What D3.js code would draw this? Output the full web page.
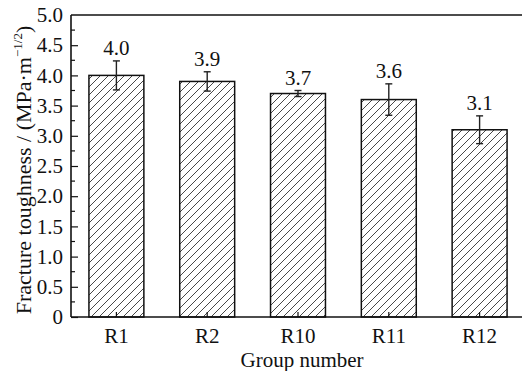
<!DOCTYPE html>
<html>
<head>
<meta charset="utf-8">
<script src="https://cdn.jsdelivr.net/npm/d3@7"></script>
<style>
  html, body { margin: 0; padding: 0; background: #fff; }
  svg { display: block; }
  svg text { font-family: "Liberation Serif", "Times New Roman", Times, serif; fill: #111; }
</style>
</head>
<body>
<svg id="chart" width="522" height="371"></svg>
<script>
// Fracture toughness per group, with standard deviation
const groups = ["R1", "R2", "R10", "R11", "R12"];
const toughness = [4.0, 3.9, 3.7, 3.6, 3.1];
const deviation = [0.24, 0.16, 0.05, 0.26, 0.23];
const yTickValues = [0, 0.5, 1.0, 1.5, 2.0, 2.5, 3.0, 3.5, 4.0, 4.5, 5.0];
const yMinorValues = [0.25, 0.75, 1.25, 1.75, 2.25, 2.75, 3.25, 3.75, 4.25, 4.75];

const serif = '"Liberation Serif", "Times New Roman", Times, serif';
const svg = d3.select("#chart");
const plotLeft = 71, plotRight = 525, plotTop = 15, plotBottom = 317;

const x = d3.scaleBand().domain(groups).range([plotLeft, plotRight]).paddingInner(0.395).paddingOuter(0.1975);
const y = d3.scaleLinear().domain([0, 5]).range([plotBottom, plotTop]);

// diagonal hatch fill
const defs = svg.append("defs");
const pat = defs.append("pattern")
  .attr("id", "hatch").attr("patternUnits", "userSpaceOnUse")
  .attr("width", 8).attr("height", 8);
pat.append("path")
  .attr("d", "M-2,2 l4,-4 M0,8 l8,-8 M6,10 l4,-4")
  .attr("stroke", "#333").attr("stroke-width", 0.9);

const data = groups.map((g, i) => ({ g, v: toughness[i], e: deviation[i] }));

// bars
svg.append("g").selectAll("rect").data(data).join("rect")
  .attr("x", d => x(d.g))
  .attr("y", d => y(d.v))
  .attr("width", x.bandwidth())
  .attr("height", d => y(0) - y(d.v))
  .attr("fill", "url(#hatch)")
  .attr("stroke", "#111").attr("stroke-width", 1.5);

// error bars
const eb = svg.append("g").attr("stroke", "#222").attr("stroke-width", 1.4);
data.forEach(d => {
  const cx = x(d.g) + x.bandwidth() / 2;
  eb.append("line").attr("x1", cx).attr("x2", cx).attr("y1", y(d.v + d.e)).attr("y2", y(d.v - d.e));
  eb.append("line").attr("x1", cx - 3.5).attr("x2", cx + 3.5).attr("y1", y(d.v + d.e)).attr("y2", y(d.v + d.e));
  eb.append("line").attr("x1", cx - 3.5).attr("x2", cx + 3.5).attr("y1", y(d.v - d.e)).attr("y2", y(d.v - d.e));
});

// value labels
svg.append("g").selectAll("text").data(data).join("text")
  .attr("x", d => x(d.g) + x.bandwidth() / 2)
  .attr("y", d => y(d.v + d.e) - 6)
  .attr("text-anchor", "middle")
  .attr("font-family", serif)
  .attr("font-size", 21)
  .text(d => d.v.toFixed(1));

// y axis with inward ticks
const yAxis = d3.axisLeft(y).tickValues(yTickValues).tickSize(-7).tickPadding(8)
  .tickFormat(d => d === 0 ? "0" : d3.format(".1f")(d));
const gy = svg.append("g").attr("transform", `translate(${plotLeft},0)`).call(yAxis)
  .attr("font-family", serif).attr("font-size", 21);
gy.select(".domain").remove();
gy.selectAll(".tick line").attr("stroke", "#111").attr("stroke-width", 1.2);
gy.selectAll(".tick text").attr("fill", "#111");
gy.selectAll(".tick").filter(d => d === 5).select("line").remove();

svg.append("g").selectAll("line").data(yMinorValues).join("line")
  .attr("x1", plotLeft).attr("x2", plotLeft + 4)
  .attr("y1", d => y(d)).attr("y2", d => y(d))
  .attr("stroke", "#111").attr("stroke-width", 1.2);

// x axis
const xAxis = d3.axisBottom(x).tickSize(-5).tickPadding(11);
const gx = svg.append("g").attr("transform", `translate(0,${plotBottom})`).call(xAxis)
  .attr("font-family", serif).attr("font-size", 21);
gx.select(".domain").remove();
gx.selectAll(".tick line").attr("stroke", "#111").attr("stroke-width", 1.2);
gx.selectAll(".tick text").attr("fill", "#111");

// frame lines
const frame = svg.append("g").attr("stroke", "#111").attr("stroke-width", 1.6).attr("fill", "none");
frame.append("line").attr("x1", plotLeft).attr("x2", 522).attr("y1", plotTop).attr("y2", plotTop);
frame.append("line").attr("x1", plotLeft).attr("x2", 522).attr("y1", plotBottom).attr("y2", plotBottom);
frame.append("line").attr("x1", plotLeft).attr("x2", plotLeft).attr("y1", plotTop).attr("y2", plotBottom);

// axis titles
svg.append("text")
  .attr("x", 302).attr("y", 367)
  .attr("text-anchor", "middle").attr("font-family", serif).attr("font-size", 21)
  .text("Group number");

const yt = svg.append("text")
  .attr("transform", `translate(31,170) rotate(-90)`)
  .attr("text-anchor", "middle").attr("font-family", serif).attr("font-size", 22);
yt.append("tspan").text("Fracture toughness / (MPa·m");
yt.append("tspan").attr("font-size", 13).attr("dy", -9).text("−1/2");
yt.append("tspan").attr("dy", 9).text(")");
</script>
</body>
</html>
